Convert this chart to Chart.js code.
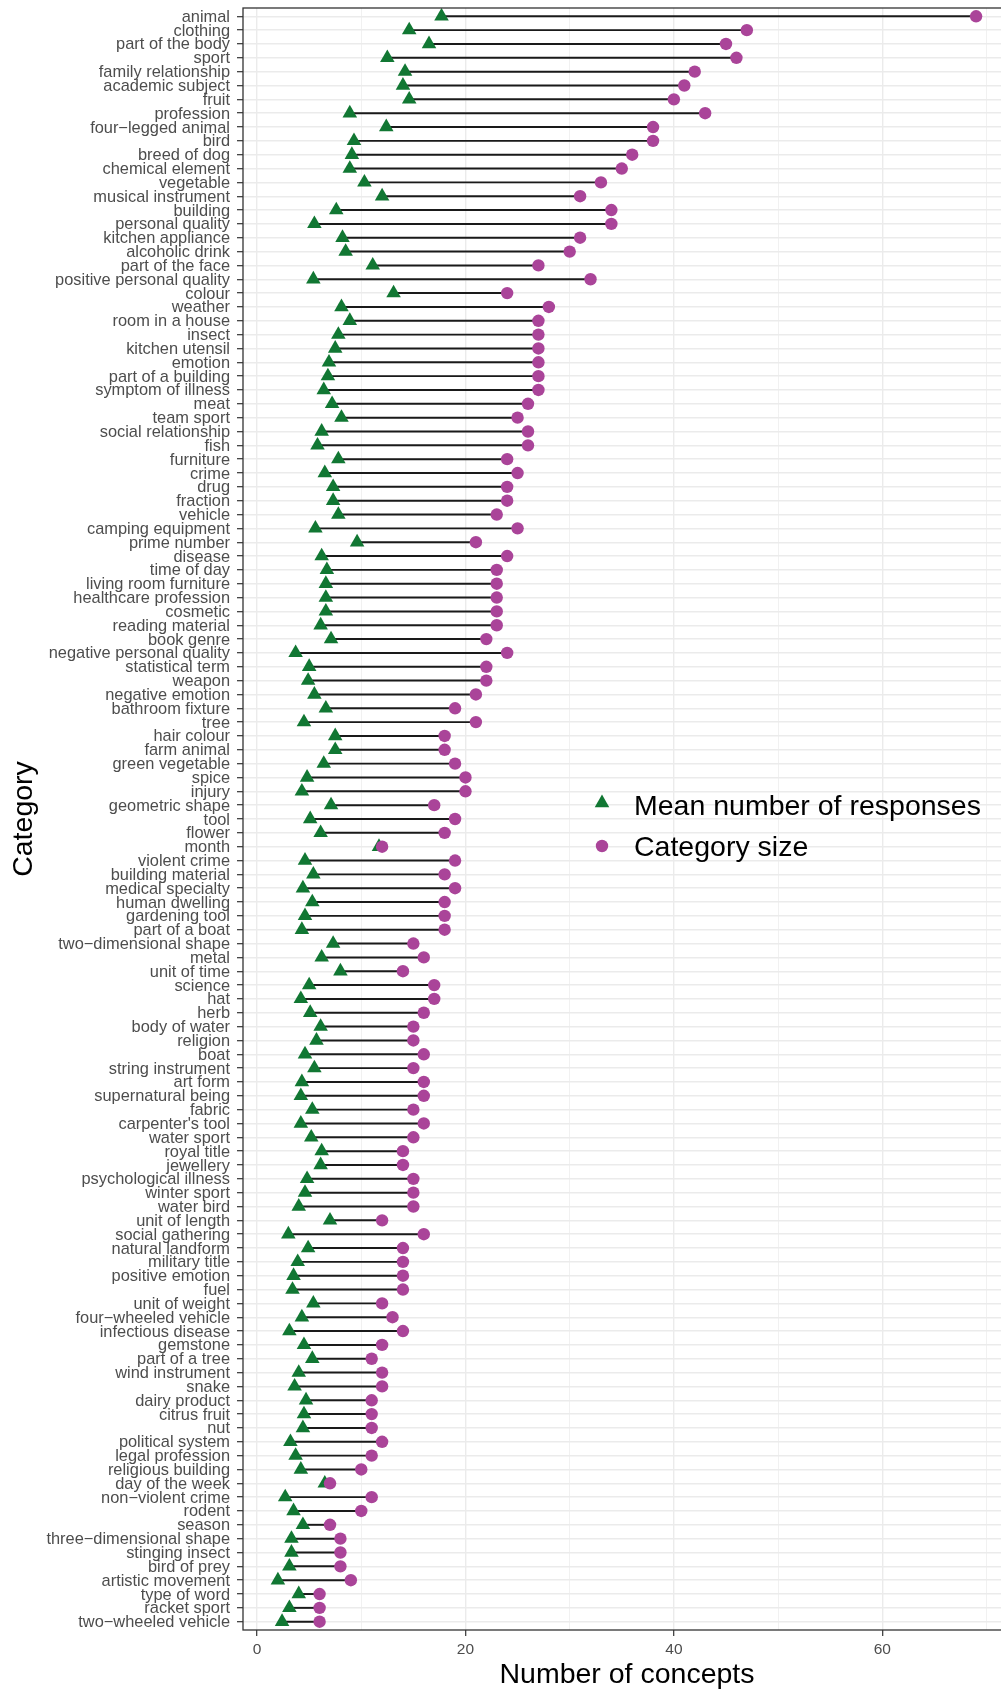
<!DOCTYPE html>
<html>
<head>
<meta charset="utf-8">
<script src="https://cdn.jsdelivr.net/npm/chart.js@4.4.1/dist/chart.umd.min.js"></script>
<style>
  html, body { margin: 0; padding: 0; background: #ffffff; overflow: hidden; }
  /* the panel runs slightly past the right edge of the page */
  #wrap { width: 1001px; height: 1694px; overflow: hidden; position: relative; }
  canvas { display: block; }
</style>
</head>
<body>
<div id="wrap"><canvas id="chart" width="1011" height="1694"></canvas></div>
<script>
// Categories, top to bottom
const categories = [
  "animal", "clothing", "part of the body", "sport", "family relationship",
  "academic subject", "fruit", "profession", "four\u2212legged animal", "bird",
  "breed of dog", "chemical element", "vegetable", "musical instrument", "building",
  "personal quality", "kitchen appliance", "alcoholic drink", "part of the face", "positive personal quality",
  "colour", "weather", "room in a house", "insect", "kitchen utensil",
  "emotion", "part of a building", "symptom of illness", "meat", "team sport",
  "social relationship", "fish", "furniture", "crime", "drug",
  "fraction", "vehicle", "camping equipment", "prime number", "disease",
  "time of day", "living room furniture", "healthcare profession", "cosmetic", "reading material",
  "book genre", "negative personal quality", "statistical term", "weapon", "negative emotion",
  "bathroom fixture", "tree", "hair colour", "farm animal", "green vegetable",
  "spice", "injury", "geometric shape", "tool", "flower",
  "month", "violent crime", "building material", "medical specialty", "human dwelling",
  "gardening tool", "part of a boat", "two\u2212dimensional shape", "metal", "unit of time",
  "science", "hat", "herb", "body of water", "religion",
  "boat", "string instrument", "art form", "supernatural being", "fabric",
  "carpenter's tool", "water sport", "royal title", "jewellery", "psychological illness",
  "winter sport", "water bird", "unit of length", "social gathering", "natural landform",
  "military title", "positive emotion", "fuel", "unit of weight", "four\u2212wheeled vehicle",
  "infectious disease", "gemstone", "part of a tree", "wind instrument", "snake",
  "dairy product", "citrus fruit", "nut", "political system", "legal profession",
  "religious building", "day of the week", "non\u2212violent crime", "rodent", "season",
  "three\u2212dimensional shape", "stinging insect", "bird of prey", "artistic movement", "type of word",
  "racket sport", "two\u2212wheeled vehicle"
];

// Mean number of responses per category
const meanResponses = [
  17.7, 14.6, 16.5, 12.5, 14.2,
  14.0, 14.6, 8.9, 12.4, 9.3,
  9.1, 8.9, 10.3, 12.0, 7.6,
  5.5, 8.2, 8.5, 11.1, 5.4,
  13.1, 8.1, 8.9, 7.8, 7.5,
  6.9, 6.8, 6.4, 7.2, 8.1,
  6.2, 5.8, 7.8, 6.5, 7.3,
  7.3, 7.8, 5.6, 9.6, 6.2,
  6.7, 6.6, 6.6, 6.6, 6.1,
  7.1, 3.7, 5.0, 4.9, 5.5,
  6.6, 4.5, 7.5, 7.5, 6.4,
  4.8, 4.3, 7.1, 5.1, 6.1,
  11.7, 4.6, 5.4, 4.4, 5.3,
  4.6, 4.3, 7.3, 6.2, 8.0,
  5.0, 4.2, 5.1, 6.1, 5.7,
  4.6, 5.5, 4.3, 4.2, 5.3,
  4.2, 5.2, 6.2, 6.1, 4.8,
  4.6, 4.0, 7.0, 3.0, 4.9,
  3.9, 3.5, 3.4, 5.4, 4.3,
  3.1, 4.5, 5.3, 4.0, 3.6,
  4.7, 4.5, 4.4, 3.2, 3.7,
  4.2, 6.5, 2.7, 3.5, 4.4,
  3.3, 3.3, 3.1, 2.0, 4.0,
  3.1, 2.4
];

// Number of concepts in each category
const categorySize = [
  69, 47, 45, 46, 42, 41, 40, 43, 38, 38,
  36, 35, 33, 31, 34, 34, 31, 30, 27, 32,
  24, 28, 27, 27, 27, 27, 27, 27, 26, 25,
  26, 26, 24, 25, 24, 24, 23, 25, 21, 24,
  23, 23, 23, 23, 23, 22, 24, 22, 22, 21,
  19, 21, 18, 18, 19, 20, 20, 17, 19, 18,
  12, 19, 18, 19, 18, 18, 18, 15, 16, 14,
  17, 17, 16, 15, 15, 16, 15, 16, 16, 15,
  16, 15, 14, 14, 15, 15, 15, 12, 16, 14,
  14, 14, 14, 12, 13, 14, 12, 11, 12, 12,
  11, 11, 11, 12, 11, 10, 7, 11, 10, 7,
  8, 8, 8, 9, 6, 6, 6
];

const xTickLabels = [0, 20, 40, 60];
const seriesNames = ["Mean number of responses", "Category size"];

const GREEN = "#117733";
const PURPLE = "#AA4499";
const FONT = "'Liberation Sans', Arial, Helvetica, sans-serif";

const segments = categories.map((c, i) => ({ y: i, x: [meanResponses[i], categorySize[i]] }));
const meanPoints = categories.map((c, i) => ({ x: meanResponses[i], y: i }));
const sizePoints = categories.map((c, i) => ({ x: categorySize[i], y: i }));

// Frame around the plotting panel
const panelBorder = {
  id: "panelBorder",
  afterDatasetsDraw(chart) {
    const { ctx, chartArea: a } = chart;
    ctx.save();
    ctx.strokeStyle = "#333333";
    ctx.lineWidth = 1.3;
    ctx.strokeRect(a.left, a.top, a.right - a.left, a.bottom - a.top);
    ctx.restore();
  }
};

// Legend drawn inside the panel, right of the short bars
const insideLegend = {
  id: "insideLegend",
  afterDatasetsDraw(chart) {
    const { ctx } = chart;
    const entries = [chart.data.datasets[1], chart.data.datasets[2]];
    const rows = [{ my: 803, base: 815 }, { my: 846, base: 856 }];
    ctx.save();
    entries.forEach((ds, k) => {
      const style = {
        pointStyle: ds.pointStyle,
        radius: ds.pointRadius,
        rotation: 0,
        borderWidth: 0
      };
      ctx.fillStyle = ds.backgroundColor;
      ctx.strokeStyle = ds.backgroundColor;
      Chart.helpers.drawPoint(ctx, style, 602, rows[k].my);
      ctx.fillStyle = "#000000";
      ctx.font = "28.5px " + FONT;
      ctx.textAlign = "left";
      ctx.textBaseline = "alphabetic";
      ctx.fillText(ds.label, 634, rows[k].base);
    });
    ctx.restore();
  }
};

new Chart(document.getElementById("chart"), {
  type: "scatter",
  data: {
    datasets: [
      {
        type: "bar",
        label: "range",
        indexAxis: "y",
        data: segments,
        backgroundColor: "#1a1a1a",
        borderWidth: 0,
        barThickness: 1.3,
        order: 3
      },
      {
        type: "scatter",
        label: seriesNames[0],
        data: meanPoints,
        pointStyle: "triangle",
        pointRadius: 8.4,
        backgroundColor: GREEN,
        borderColor: GREEN,
        borderWidth: 0,
        order: 2
      },
      {
        type: "scatter",
        label: seriesNames[1],
        data: sizePoints,
        pointStyle: "circle",
        pointRadius: 6.2,
        backgroundColor: PURPLE,
        borderColor: PURPLE,
        borderWidth: 0,
        order: 1
      }
    ]
  },
  options: {
    responsive: false,
    animation: false,
    devicePixelRatio: 1,
    events: [],
    layout: { autoPadding: false, padding: { top: 8, right: 0, bottom: 0, left: 0 } },
    plugins: {
      legend: { display: false },
      tooltip: { enabled: false }
    },
    scales: {
      x: {
        type: "linear",
        position: "bottom",
        min: -1.35,
        max: 72.35,
        offset: false,
        afterFit(scale) {
          scale.height = 64;
          scale.paddingLeft = 0;
          scale.paddingRight = 0;
        },
        border: { display: false },
        grid: {
          offset: false,
          color: "#EBEBEB",
          lineWidth: (c) => (xTickLabels.includes(c.tick.value) ? 1.4 : 0.7),
          tickLength: 6,
          tickColor: (c) => (xTickLabels.includes(c.tick.value) ? "#333333" : "rgba(0,0,0,0)"),
          tickWidth: 1.2
        },
        ticks: {
          stepSize: 10,
          includeBounds: false,
          autoSkip: false,
          maxRotation: 0,
          padding: 4,
          color: "#4D4D4D",
          font: { family: FONT, size: 15.5 },
          callback: (v) => (xTickLabels.includes(v) ? String(v) : "")
        },
        title: {
          display: true,
          text: "Number of concepts",
          color: "#000000",
          font: { family: FONT, size: 28.5, lineHeight: 1.2 },
          padding: { top: 0, bottom: 2 }
        }
      },
      y: {
        type: "linear",
        position: "left",
        reverse: true,
        min: -0.6,
        max: 116.6,
        offset: false,
        afterFit(scale) {
          scale.width = 243;
          scale.paddingTop = 0;
          scale.paddingBottom = 0;
        },
        border: { display: false },
        grid: {
          offset: false,
          color: "#EBEBEB",
          lineWidth: 1.4,
          tickLength: 6,
          tickColor: "#333333",
          tickWidth: 1.2
        },
        ticks: {
          stepSize: 1,
          includeBounds: false,
          autoSkip: false,
          maxTicksLimit: 200,
          padding: 7,
          labelOffset: 1,
          color: "#4D4D4D",
          font: { family: FONT, size: 16.4 },
          callback: (v) => (Number.isInteger(v) && categories[v] !== undefined ? categories[v] : "")
        },
        title: {
          display: true,
          text: "Category",
          color: "#000000",
          font: { family: FONT, size: 28.5, lineHeight: 1.2 },
          padding: { top: 7, bottom: 0 }
        }
      }
    }
  },
  plugins: [panelBorder, insideLegend]
});
</script>
</body>
</html>
